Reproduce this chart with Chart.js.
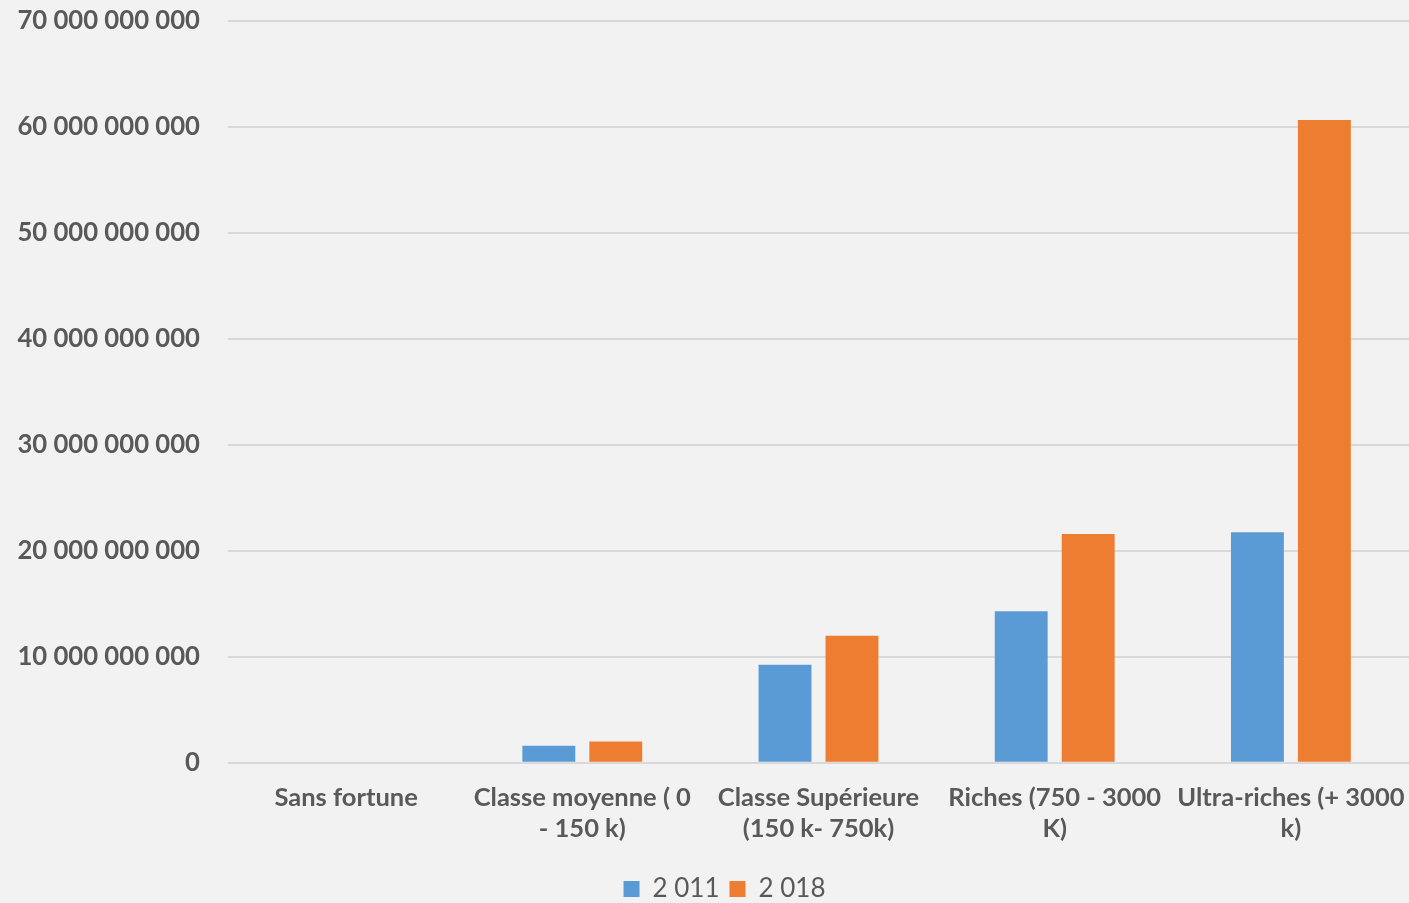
<!DOCTYPE html>
<html>
<head>
<meta charset="utf-8">
<script src="https://cdn.jsdelivr.net/npm/chart.js@4"></script>
<style>
  html, body { margin: 0; padding: 0; background: #f2f2f2; overflow: hidden; }
  #wrap { width: 1409px; height: 912px; }
</style>
</head>
<body>
<div id="wrap"><canvas id="chart1"></canvas></div>
<script>
var categories = [
  "Sans fortune",
  ["Classe moyenne ( 0", "- 150 k)"],
  ["Classe Supérieure", "(150 k- 750k)"],
  ["Riches (750 - 3000", "K)"],
  ["Ultra-riches (+ 3000", "k)"]
];
var values2011 = [0, 1600000000, 9250000000, 14300000000, 21750000000];
var values2018 = [0, 2000000000, 12000000000, 21600000000, 60650000000];
var seriesLabels = ["2 011", "2 018"];

function fmt(v) {
  return String(Math.round(v)).replace(/\B(?=(\d{3})+(?!\d))/g, " ");
}

// nudge the legend a bit right, like the original
var legendShift = {
  id: "legendShift",
  afterLayout: function (chart) {
    if (chart.legend) {
      chart.legend.left += 20;
      chart.legend.right += 20;
    }
  }
};

var ctx1 = document.getElementById("chart1").getContext("2d");
var chart1 = new Chart(ctx1, {
  type: "bar",
  data: {
    labels: categories,
    datasets: [
      {
        label: seriesLabels[0],
        data: values2011,
        backgroundColor: "#5b9bd5",
        categoryPercentage: 0.567,
        barPercentage: 0.79
      },
      {
        label: seriesLabels[1],
        data: values2018,
        backgroundColor: "#ed7d31",
        categoryPercentage: 0.567,
        barPercentage: 0.79
      }
    ]
  },
  options: {
    responsive: true,
    maintainAspectRatio: false,
    animation: false,
    layout: { padding: { top: 21, right: 0, left: 0, bottom: 0 } },
    scales: {
      x: {
        grid: { display: false },
        border: { display: false },
        afterFit: function (axis) {
          axis.height += 10;
          axis.paddingLeft = 0;
          axis.paddingRight = 0;
        },
        ticks: {
          color: "#595959",
          font: { family: "Lato", size: 25.5, weight: "bold" },
          padding: 12,
          maxRotation: 0,
          autoSkip: false
        }
      },
      y: {
        min: 0,
        max: 70000000000,
        grid: { color: "#d9d9d9", lineWidth: 2, drawTicks: false },
        border: { display: false },
        afterFit: function (axis) {
          axis.width = 228;
          axis.paddingTop = 0;
          axis.paddingBottom = 0;
        },
        ticks: {
          stepSize: 10000000000,
          color: "#595959",
          padding: 28,
          font: { family: "Lato", size: 25.7, weight: "bold" },
          callback: function (v) { return fmt(v); }
        }
      }
    },
    plugins: {
      legend: {
        display: true,
        position: "bottom",
        labels: {
          color: "#595959",
          font: { family: "Lato", size: 26 },
          boxWidth: 16,
          boxHeight: 16,
          padding: 10
        }
      },
      tooltip: { enabled: false }
    }
  },
  plugins: [legendShift]
});
</script>
</body>
</html>
